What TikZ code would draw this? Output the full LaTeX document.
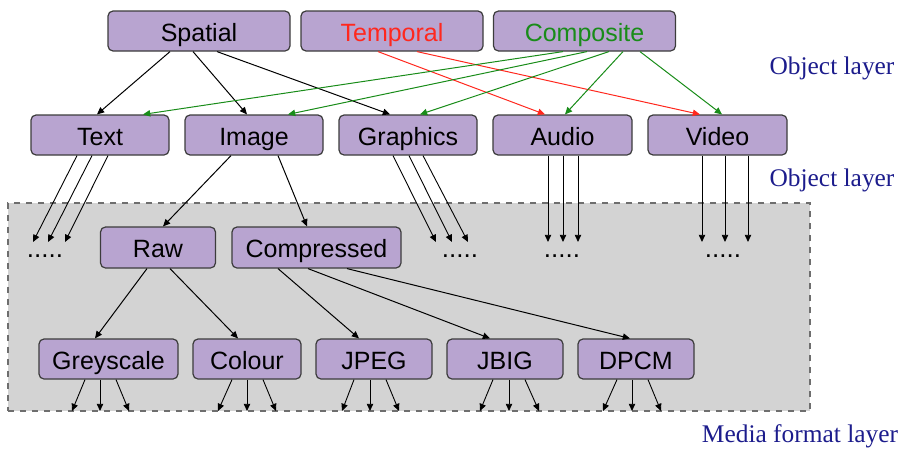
\documentclass[tikz,border=0pt]{standalone}
\usepackage{fontspec}
\setmainfont{Liberation Serif}
\newfontfamily\boxfont{Liberation Sans}
\usetikzlibrary{arrows.meta,calc}
\definecolor{boxfill}{RGB}{184,164,208}
\definecolor{boxline}{RGB}{60,60,60}
\definecolor{areafill}{RGB}{211,211,211}
\definecolor{arealine}{RGB}{110,110,110}
\definecolor{navy}{RGB}{28,28,140}
\definecolor{tred}{RGB}{255,40,30}
\definecolor{cgreen}{RGB}{25,140,25}
\tikzset{
  box/.style={draw=boxline, fill=boxfill, rounded corners=2.5pt, line width=0.6pt,
    minimum height=20pt, inner sep=0pt, text height=10.5pt, text depth=0.5pt,
    font=\boxfont\fontsize{12.5}{15}\selectfont},
  arr/.style={-{Triangle[length=3.6pt,width=3.2pt]}, line width=0.5pt, black},
  rarr/.style={arr, tred, -{Triangle[length=3.6pt,width=3.2pt,fill=tred]}},
  garr/.style={arr, cgreen, -{Triangle[length=3.6pt,width=3.2pt,fill=cgreen]}},
  fan/.style={arr, line width=0.45pt},
  layer/.style={text=navy, font=\fontsize{12.7}{15}\selectfont, inner sep=0pt},
  dots/.style={font=\boxfont\fontsize{13}{15}\selectfont, inner sep=0pt, anchor=base}
}
\begin{document}
\begin{tikzpicture}[x=0.5pt,y=-0.5pt]
\useasboundingbox (0,0) rectangle (901,450);
% media format area
\node[draw=arealine, fill=areafill, dashed, line width=0.6pt, minimum width=401pt, minimum height=104pt, inner sep=0pt] (area) at (409,307) {};
% top row
\node[box, minimum width=91pt] (spatial) at (199,31) {Spatial};
\node[box, minimum width=91pt, text=tred] (temporal) at (392,31) {Temporal};
\node[box, minimum width=91pt, text=cgreen] (composite) at (584.5,31) {Composite};
% object row
\node[box, minimum width=69pt] (text) at (100,135) {Text};
\node[box, minimum width=69pt] (image) at (254,135) {Image};
\node[box, minimum width=69pt] (graphics) at (408,135) {Graphics};
\node[box, minimum width=69.5pt] (audio) at (562.5,135) {Audio};
\node[box, minimum width=69.5pt] (video) at (717.5,135) {Video};
% media row 1
\node[box, minimum width=57.5pt, minimum height=20.5pt] (raw) at (158,247.5) {Raw};
\node[box, minimum width=84.5pt, minimum height=20.5pt] (compressed) at (316.5,247.5) {Compressed};
% media row 2
\node[box, minimum width=69.5pt] (grey) at (108.5,359) {Greyscale};
\node[box, minimum width=54pt] (colour) at (247,359) {Colour};
\node[box, minimum width=58pt] (jpeg) at (374,359) {JPEG};
\node[box, minimum width=58pt] (jbig) at (505,359) {JBIG};
\node[box, minimum width=58pt] (dpcm) at (636,359) {DPCM};
% layer labels
\node[layer] (ol1) at (832,68) {Object layer};
\node[layer] (ol2) at (832,180) {Object layer};
\node[layer] (mfl) at (800,436) {Media format layer};
% dots
\node[dots] (d1) at (45,257) {.....};
\node[dots] (d2) at (460,257) {.....};
\node[dots] (d3) at (562,257) {.....};
\node[dots] (d4) at (723,257) {.....};
% spatial
\draw[arr] ($(spatial.south)+(-29,0)$) -- ($(text.north)+(-3,0)$);
\draw[arr] ($(spatial.south)+(-6,0)$) -- ($(image.north)+(-7,0)$);
\draw[arr] ($(spatial.south)+(18,0)$) -- ($(graphics.north)+(-18,0)$);
% temporal
\draw[rarr] ($(temporal.south)+(-14,0)$) -- ($(audio.north)+(-17.5,0)$);
\draw[rarr] ($(temporal.south)+(25,0)$) -- ($(video.north)+(-17.5,0)$);
% composite
\draw[garr] ($(composite.south)+(-21.5,0)$) -- ($(text.north)+(43,0)$);
\draw[garr] ($(composite.south)+(2.5,0)$) -- ($(image.north)+(34,0)$);
\draw[garr] ($(composite.south)+(24.5,0)$) -- ($(graphics.north)+(12,0)$);
\draw[garr] ($(composite.south)+(38.5,0)$) -- ($(audio.north)+(2.5,0)$);
\draw[garr] ($(composite.south)+(55.5,0)$) -- ($(video.north)+(4.5,0)$);
% image
\draw[arr] ($(image.south)+(-23,0)$) -- ($(raw.north)+(5,0)$);
\draw[arr] ($(image.south)+(24,0)$) -- ($(compressed.north)+(-9.5,0)$);
% raw
\draw[arr] ($(raw.south)+(-11,0)$) -- ($(grey.north)+(-13.5,0)$);
\draw[arr] ($(raw.south)+(12,0)$) -- ($(colour.north)+(-9,0)$);
% compressed
\draw[arr] ($(compressed.south)+(-38.5,0)$) -- ($(jpeg.north)+(-15,0)$);
\draw[arr] ($(compressed.south)+(-8.5,0)$) -- ($(jbig.north)+(-15,0)$);
\draw[arr] ($(compressed.south)+(30.5,0)$) -- ($(dpcm.north)+(-6,0)$);
% fans from object row
\foreach \s/\e [count=\i] in {-23/33,-8/48,8/65}{
  \coordinate (te\i) at (\e,242);
  \draw[fan] ($(text.south)+(\s,0)$) -- (te\i);}
\foreach \s/\e [count=\i] in {-15/436,1/452,15/468}{
  \coordinate (ge\i) at (\e,242);
  \draw[fan] ($(graphics.south)+(\s,0)$) -- (ge\i);}
\foreach \s [count=\i] in {-14.5,0.5,15.5}{
  \coordinate (ae\i) at ($(audio.center)+(\s,107)$);
  \draw[fan] ($(audio.south)+(\s,0)$) -- (ae\i);}
\foreach \s [count=\i] in {-15.5,7.5,30.5}{
  \coordinate (ve\i) at ($(video.center)+(\s,107)$);
  \draw[fan] ($(video.south)+(\s,0)$) -- (ve\i);}
% fans from bottom row
\foreach \n/\a/\b/\cc/\x/\y/\z in {grey/-23.5/-8.5/7.5/-36.5/-8.5/20.5,
    colour/-15/0/16/-29/0/29,
    jpeg/-20/-4/12/-32/-4/25,
    jbig/-12/4/20/-25/4/34,
    dpcm/-19/-4/12/-33/-4/25}{
  \coordinate (\n f1) at ($(\n.center)+(\x,52)$);
  \coordinate (\n f2) at ($(\n.center)+(\y,52)$);
  \coordinate (\n f3) at ($(\n.center)+(\z,52)$);
  \draw[fan] ($(\n.south)+(\a,0)$) -- (\n f1);
  \draw[fan] ($(\n.south)+(\b,0)$) -- (\n f2);
  \draw[fan] ($(\n.south)+(\cc,0)$) -- (\n f3);
}
\end{tikzpicture}
\end{document}
